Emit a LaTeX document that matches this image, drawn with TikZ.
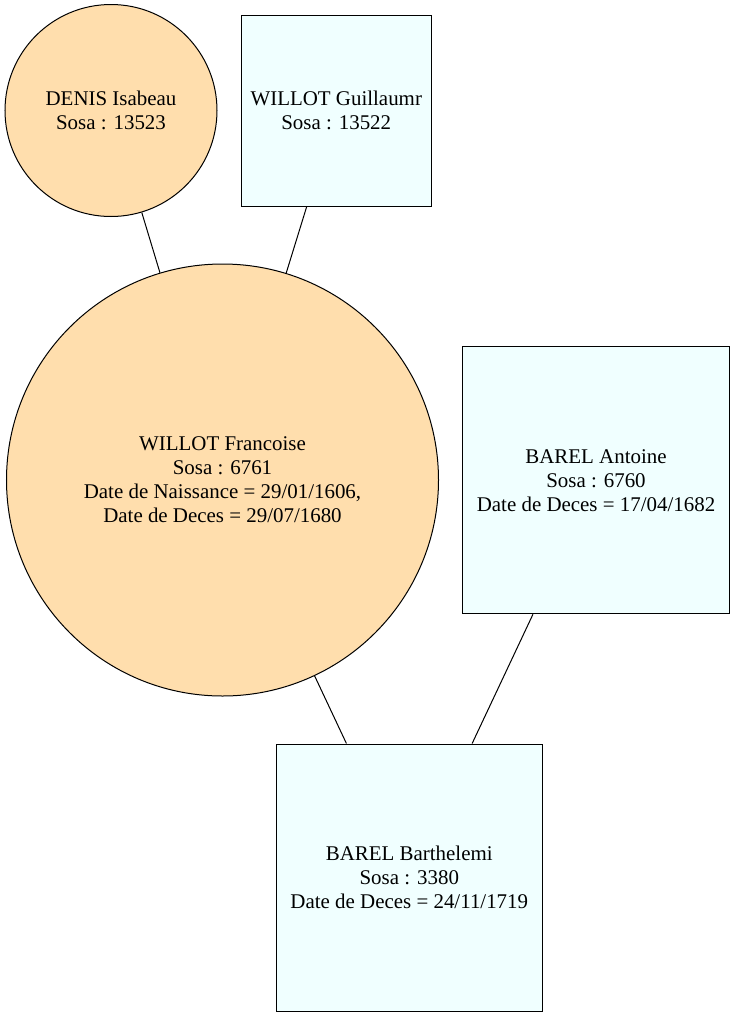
\documentclass[tikz,border=0pt]{standalone}
\usepackage{fontspec}
\setmainfont{Liberation Serif}
\definecolor{personF}{HTML}{FFDEAD}
\definecolor{personM}{HTML}{F0FFFF}
\begin{document}
\begin{tikzpicture}[x=1bp,y=-1bp,
  every node/.style={draw=black, line width=1bp, inner sep=0pt, align=center,
    font=\fontsize{21}{24}\selectfont},
  female/.style={circle, fill=personF},
  male/.style={rectangle, fill=personM},
  link/.style={draw=black, line width=1bp}]
\useasboundingbox (0,0) rectangle (735,1016);
% parents of Francoise
\node[female, minimum size=212bp] (isabeau) at (111,110.5) {DENIS Isabeau\\Sosa : 13523};
\node[male, minimum width=190.5bp, minimum height=191bp] (guillaumr) at (336.25,110.5) {WILLOT Guillaumr\\Sosa : 13522};
% couple
\node[female, minimum size=432bp] (francoise) at (222.5,480) {WILLOT Francoise\\Sosa : 6761\\Date de Naissance = 29/01/1606,\\Date de Deces = 29/07/1680};
\node[male, minimum width=266.5bp, minimum height=267bp] (antoine) at (596,480.3) {BAREL Antoine\\Sosa : 6760\\Date de Deces = 17/04/1682};
% child
\node[male, minimum width=266.5bp, minimum height=267bp] (barthelemi) at (409.3,877.5) {BAREL Barthelemi\\Sosa : 3380\\Date de Deces = 24/11/1719};
\draw[link] (isabeau) -- (francoise);
\draw[link] (guillaumr) -- (francoise);
\draw[link] (francoise) -- (barthelemi);
\draw[link] (antoine) -- (barthelemi);
\end{tikzpicture}
\end{document}
